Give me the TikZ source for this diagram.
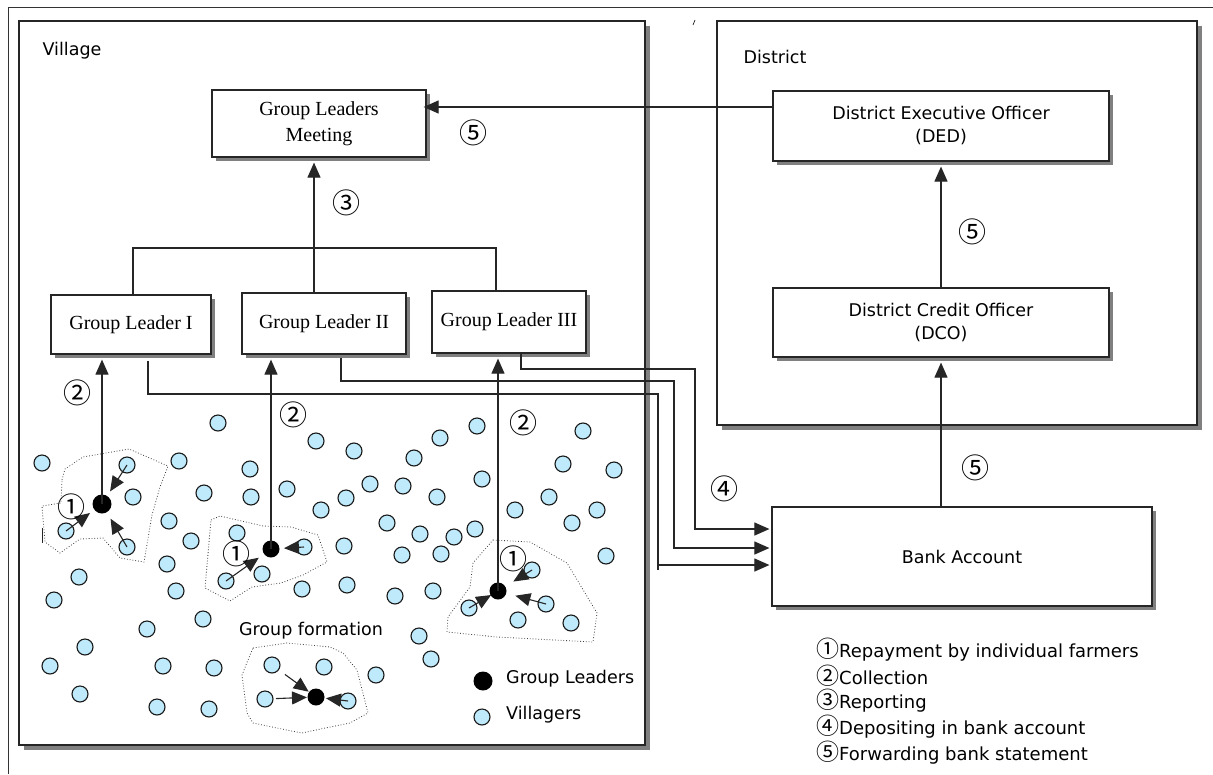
\documentclass[tikz,border=0pt]{standalone}
\usepackage{fontspec}
\setmainfont{Liberation Serif}
\newfontfamily\djv{DejaVu Sans}
\newfontfamily\cjk{Noto Sans CJK JP}
\usetikzlibrary{arrows.meta,shadows}
\tikzset{
  frame/.style={draw=black!85, line width=1.3pt, fill=white, inner sep=0pt,
    drop shadow={shadow xshift=5pt, shadow yshift=-5pt, fill=black!50, opacity=1}},
  box/.style={draw=black!85, line width=1.2pt, fill=white, inner sep=0pt, align=center,
    drop shadow={shadow xshift=4pt, shadow yshift=-4pt, fill=black!50, opacity=1}},
  serifbox/.style={box, font=\fontsize{20}{26}\selectfont},
  sansbox/.style={box, font=\djv\fontsize{17.5}{23}\selectfont},
  lbl/.style={font=\djv\fontsize{17.5}{21}\selectfont, inner sep=0pt},
  num/.style={font=\cjk\fontsize{28}{28}\selectfont, inner sep=0pt},
  leg/.style={font=\djv\fontsize{18}{22}\selectfont, inner sep=0pt, anchor=west},
  line/.style={draw=black!85, line width=1.1pt},
  arr/.style={line, -{Triangle[length=15pt,width=13pt]}},
  vil/.style={circle, draw=black!90, line width=1.1pt, fill=cyan!25, minimum size=16pt, inner sep=0pt},
  leader/.style={circle, fill=black, minimum size=19pt, inner sep=0pt},
  grp/.style={draw=black!75, line width=0.8pt, dotted},
}
\newcommand\lnum[1]{{\cjk\fontsize{23}{22}\selectfont #1}}
\begin{document}
\begin{tikzpicture}[x=1pt,y=-1pt]
\useasboundingbox (0,0) rectangle (1213,774);
% outer frame
\draw[draw=black!80, line width=1pt] (8,774) |- (1213,7);
\draw[line width=0.6pt] (693,25) -- (695,20);

% containers
\node[frame, minimum width=626pt, minimum height=724pt] (village) at (332,383) {};
\node[frame, minimum width=480pt, minimum height=404pt] (district) at (957,223) {};
\node[lbl] (villagelbl) at (72,51) {Village};
\node[lbl] (districtlbl) at (775,57) {District};

% boxes
\node[serifbox, minimum width=214pt, minimum height=67pt] (glm) at (319,123.5) {Group Leaders\\Meeting};
\node[serifbox, minimum width=160pt, minimum height=59pt] (gl1) at (131,324.5) {Group Leader I};
\node[serifbox, minimum width=164pt, minimum height=61pt] (gl2) at (324,323.5) {Group Leader II};
\node[serifbox, minimum width=154pt, minimum height=62pt] (gl3) at (509,322) {Group Leader III};
\node[sansbox, minimum width=336pt, minimum height=70pt] (ded) at (941,126) {District Executive Officer\\(DED)};
\node[sansbox, minimum width=336pt, minimum height=69pt] (dco) at (941,322.5) {District Credit Officer\\(DCO)};
\node[sansbox, minimum width=380pt, minimum height=99pt] (bank) at (962,556.5) {Bank Account};

% group outlines
\draw[grp] (62,480) -- (65,469) -- (83,457) -- (129,449) -- (168,466) -- (160,487) -- (152,515) -- (144,562) -- (120,558) -- (103,538) -- (80,539) -- (60,553) -- (45,542) -- (42,506) -- (61,503) -- cycle;
\draw[grp] (211,520) -- (220,516) -- (263,526) -- (291,527) -- (318,535) -- (327,562) -- (303,575) -- (281,583) -- (252,587) -- (230,601) -- (205,588) -- cycle;
\draw[grp] (253,648) -- (287,643) -- (330,647) -- (343,653) -- (357,670) -- (368,713) -- (350,723) -- (330,727) -- (302,733) -- (277,728) -- (253,723) -- (247,713) -- (242,675) -- (248,660) -- cycle;
\draw[grp] (493,540) -- (530,542) -- (567,563) -- (597,613) -- (593,642) -- (497,637) -- (447,632) -- (448,617) -- (470,587) -- (473,563) -- cycle;

% connectors between boxes
\coordinate (bus) at (314,248);
\draw[line] ([xshift=2pt]gl1.north) |- (bus) -| ([xshift=-13pt]gl3.north);
\draw[arr, shorten >=5pt] ([xshift=-10pt]gl2.north) -- ([xshift=-5pt]glm.south);
\draw[arr, shorten >=-3pt] ([yshift=19pt]ded.west) -- ([yshift=16.5pt]glm.east);
\draw[arr, shorten >=5pt] (dco.north) -- (ded.south);
\draw[arr, shorten >=5pt] (bank.north -| dco.south) -- (dco.south);
\coordinate (c1) at (658,394);
\coordinate (c2) at (674,381);
\coordinate (c3) at (695,369);
\draw[arr, shorten >=2pt] ([xshift=17pt,yshift=-6pt]gl1.south) |- (c1) |- ([yshift=-8.5pt]bank.west);
\draw[arr, shorten >=2pt] ([xshift=17pt,yshift=-3pt]gl2.south) |- (c2) |- ([yshift=8.5pt]bank.west);
\draw[arr, shorten >=2pt] ([xshift=12pt]gl3.south) |- (c3) |- ([yshift=27.5pt]bank.west);
\draw[line] (c1 |- bank.west) ++(0,8.5) -- ++(0,5);
\draw[line, line width=1pt] (42,528) -- (42,543);

% villagers
\foreach \p in {(218,423),(42,463),(179,461),(204,493),(250,469),(251,497),(287,489),(316,441),(321,510),(169,521),(191,541),(167,564),(176,591),(79,577),(54,600),(203,619),(147,629),(85,647),(50,666),(163,666),(214,668),(80,694),(157,707),(209,709),
(354,451),(440,438),(477,426),(414,458),(370,484),(403,486),(482,479),(437,497),(346,498),(387,523),(420,534),(454,537),(475,529),(344,546),(402,555),(441,554),(347,585),(395,596),(433,591),(515,510),(549,497),(583,431),(563,464),(614,470),(572,523),(597,510),(606,556),(419,636),(431,659),(376,675),(302,589),
(133,497),(237,533),(262,574),(518,620),(571,623),(324,667)}
  \node[vil] at \p {};
\node[vil] (g1a) at (127,465) {};
\node[vil] (g1b) at (66,531) {};
\node[vil] (g1c) at (127,547) {};
\node[vil] (g2a) at (304,547) {};
\node[vil] (g2b) at (226,581) {};
\node[vil] (g3a) at (532,570) {};
\node[vil] (g3b) at (469,608) {};
\node[vil] (g3c) at (546,604) {};
\node[vil] (gfa) at (272,665) {};
\node[vil] (gfb) at (265,699) {};
\node[vil] (gfc) at (348,701) {};

% leaders
\node[leader] (L1) at (102,504) {};
\node[leader, minimum size=17pt] (L2) at (271,549) {};
\node[leader, minimum size=17pt] (L3) at (498,591) {};
\node[leader, minimum size=17pt] (LF) at (316,697) {};

% collection arrows
\draw[arr, shorten >=5pt] (L1.center) -- (L1 |- gl1.south);
\draw[arr, shorten >=5pt] (L2.center) -- (L2 |- gl2.south);
\draw[arr, shorten >=5pt] (L3.center) -- (L3 |- gl3.south);

% repayment arrows
\draw[arr, shorten >=15pt] (g1a.center) -- (L1.center);
\draw[arr, shorten >=15pt] (g1b.center) -- (L1.center);
\draw[arr, shorten >=17pt] (g1c.center) -- (L1.center);
\draw[arr, shorten >=13pt] (g2a.center) -- (L2.center);
\draw[arr, shorten >=15pt] (g2b.center) -- (L2.center);
\draw[arr, shorten >=18pt] (g3a.center) -- (L3.center);
\draw[arr, shorten >=8pt] (g3b.center) -- (L3.center);
\draw[arr, shorten >=18pt] (g3c.center) -- (L3.center);
\draw[arr, shorten <=16pt, shorten >=9pt] (gfa.center) -- (LF.center);
\draw[arr, shorten <=11pt, shorten >=9pt] (gfb.center) -- (LF.center);
\draw[arr, shorten >=10pt] (gfc.center) -- (LF.center);

% village labels
\node[lbl] (gform) at (311,631) {Group formation};
\node[leader] (lgL) at (483,681) {};
\node[vil] (lgV) at (482,717) {};
\node[lbl, anchor=west] (lgLt) at (506,679) {Group Leaders};
\node[lbl, anchor=west] (lgVt) at (506,715) {Villagers};

% circled numbers
\node[num] (n1a) at (71,507) {①};
\node[num] (n1b) at (236,554) {①};
\node[num] (n1c) at (513,559) {①};
\node[num] (n2a) at (77,393) {②};
\node[num] (n2b) at (293,415) {②};
\node[num] (n2c) at (523,423) {②};
\node[num] (n3) at (346,203) {③};
\node[num] (n4) at (724,489) {④};
\node[num] (n5a) at (473,133) {⑤};
\node[num] (n5b) at (972,232) {⑤};
\node[num] (n5c) at (975,468) {⑤};

% legend
\node[leg] (leg1) at (816,650) {\lnum{①}Repayment by individual farmers};
\node[leg] (leg2) at (816,676) {\lnum{②}Collection};
\node[leg] (leg3) at (816,701) {\lnum{③}Reporting};
\node[leg] (leg4) at (816,727) {\lnum{④}Depositing in bank account};
\node[leg] (leg5) at (816,753) {\lnum{⑤}Forwarding bank statement};
\end{tikzpicture}
\end{document}
